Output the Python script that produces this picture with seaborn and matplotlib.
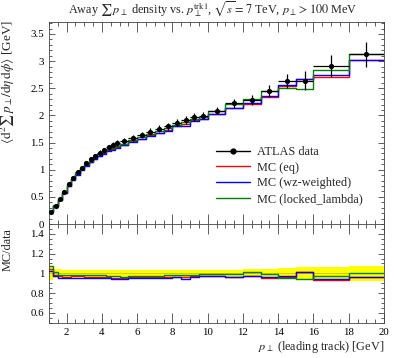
import numpy as np
import pandas as pd
import matplotlib
matplotlib.use("Agg")
import matplotlib.pyplot as plt
from matplotlib.lines import Line2D
from matplotlib.ticker import MultipleLocator
import seaborn as sns

# ---------------- data ----------------
bin_edges = [1.0, 1.25, 1.5, 1.75, 2.0, 2.25, 2.5, 2.75, 3.0, 3.25, 3.5, 3.75, 4.0,
             4.25, 4.5, 4.75, 5.0, 5.5, 6.0, 6.5, 7.0, 7.5, 8.0, 8.5, 9.0, 9.5, 10.0,
             11.0, 12.0, 13.0, 14.0, 15.0, 16.0, 18.0, 20.0]

data_y = [0.227, 0.34, 0.46, 0.595, 0.73, 0.85, 0.95, 1.04, 1.12, 1.19, 1.25, 1.31,
          1.36, 1.41, 1.45, 1.49, 1.53, 1.59, 1.64, 1.70, 1.755, 1.80, 1.865, 1.915,
          1.97, 1.995, 2.09, 2.22, 2.28, 2.455, 2.63, 2.64, 2.915, 3.125]
data_err = [0.016, 0.016, 0.019, 0.023, 0.027, 0.031, 0.034, 0.037, 0.040, 0.042,
            0.044, 0.046, 0.048, 0.049, 0.051, 0.052, 0.054, 0.056, 0.057, 0.060,
            0.062, 0.063, 0.065, 0.067, 0.069, 0.070, 0.073, 0.085, 0.095, 0.11,
            0.13, 0.18, 0.20, 0.23]

mc_eq = [0.236, 0.333, 0.446, 0.574, 0.704, 0.825, 0.922, 1.009, 1.081, 1.148,
         1.206, 1.258, 1.306, 1.354, 1.385, 1.423, 1.461, 1.526, 1.574, 1.632,
         1.685, 1.737, 1.800, 1.848, 1.911, 1.935, 2.027, 2.131, 2.212, 2.345,
         2.538, 2.666, 2.711, 3.016]
mc_wz = [0.232, 0.330, 0.439, 0.568, 0.694, 0.812, 0.907, 0.993, 1.070, 1.136,
         1.188, 1.245, 1.292, 1.340, 1.370, 1.408, 1.446, 1.511, 1.558, 1.615,
         1.667, 1.710, 1.800, 1.800, 1.891, 1.935, 2.027, 2.131, 2.223, 2.357,
         2.564, 2.666, 2.740, 3.019]
mc_ll = [0.243, 0.343, 0.453, 0.583, 0.715, 0.837, 0.936, 1.024, 1.103, 1.166,
         1.225, 1.284, 1.333, 1.375, 1.407, 1.445, 1.476, 1.550, 1.599, 1.658,
         1.711, 1.764, 1.828, 1.877, 1.940, 1.975, 2.080, 2.209, 2.303, 2.443,
         2.512, 2.495, 2.828, 3.125]

series_names = ["MC (eq)", "MC (wz-weighted)", "MC (locked_lambda)"]
series_vals = [mc_eq, mc_wz, mc_ll]
series_colors = ["red", "blue", "green"]

# ---------------- style ----------------
sns.set_theme(style="ticks")
plt.rcParams["font.family"] = ["Liberation Serif", "DejaVu Serif"]
plt.rcParams["mathtext.fontset"] = "stix"
plt.rcParams["axes.linewidth"] = 0.6
plt.rcParams["axes.edgecolor"] = "#444444"
FS = 8.8
TFS = 7.8

edges = np.array(bin_edges)
centers = 0.5 * (edges[:-1] + edges[1:])
halfw = 0.5 * (edges[1:] - edges[:-1])
dy = np.array(data_y)
de = np.array(data_err)


def step_df(vals):
    v = np.asarray(vals, dtype=float)
    return pd.DataFrame({"x": edges, "y": np.append(v, v[-1])})


fig = plt.figure(figsize=(3.97, 3.58), dpi=100)
W, H = 397.0, 358.0
L, R = 49 / W, 384 / W
ax = fig.add_axes([L, 1 - 224 / H, R - L, (224 - 22) / H])
axr = fig.add_axes([L, 1 - 322.7 / H, R - L, (322.7 - 224) / H], sharex=ax)

# main panel
for name, vals, col in zip(series_names, series_vals, series_colors):
    sns.lineplot(data=step_df(vals), x="x", y="y", drawstyle="steps-post",
                 color=col, linewidth=1.0, ax=ax, estimator=None, sort=False)
ax.errorbar(centers, dy, yerr=de, xerr=halfw, fmt="none", ecolor="black",
            elinewidth=0.9, capsize=0, zorder=5)
sns.scatterplot(x=centers, y=dy, color="black", s=14, edgecolor="black",
                linewidth=0, ax=ax, zorder=6)

# ratio panel
rel = de / dy
band_lo = np.append(1 - rel, (1 - rel)[-1])
band_hi = np.append(1 + rel, (1 + rel)[-1])
axr.fill_between(edges, band_lo, band_hi, step="post", color="#ffff00",
                 linewidth=0, zorder=1)
axr.axhline(1.0, color="#bbbb00", lw=0.5, zorder=1)
for name, vals, col in zip(series_names, series_vals, series_colors):
    sns.lineplot(data=step_df(np.array(vals) / dy), x="x", y="y",
                 drawstyle="steps-post", color=col, linewidth=1.0, ax=axr,
                 estimator=None, sort=False, zorder=3)

# axes setup
ax.set_xlim(1, 20)
ax.set_ylim(0, 3.72)
axr.set_ylim(0.5, 1.5)
for a in (ax, axr):
    a.set_xlabel("")
    a.set_ylabel("")
    a.xaxis.set_major_locator(MultipleLocator(2))
    a.xaxis.set_minor_locator(MultipleLocator(0.5))
    a.tick_params(which="both", direction="in", top=True, right=True,
                  colors="#444444", labelcolor="black", labelsize=TFS, width=0.6)
    a.tick_params(axis="x", which="major", length=7)
    a.tick_params(axis="x", which="minor", length=2.8)
    a.tick_params(axis="y", which="major", length=4.5)
    a.tick_params(axis="y", which="minor", length=2.2)
ax.yaxis.set_major_locator(MultipleLocator(0.5))
ax.yaxis.set_minor_locator(MultipleLocator(0.1))
axr.yaxis.set_major_locator(MultipleLocator(0.2))
axr.yaxis.set_minor_locator(MultipleLocator(0.05))
ax.tick_params(axis="x", labelbottom=False)
ax.set_yticks([0, 0.5, 1, 1.5, 2, 2.5, 3, 3.5])
ax.set_yticklabels(["0", "0.5", "1", "1.5", "2", "2.5", "3", "3.5"])
axr.set_yticks([0.6, 0.8, 1.0, 1.2, 1.4])
axr.set_yticklabels(["0.6", "0.8", "1", "1.2", "1.4"])

# legend
handles = [Line2D([], [], color="black", marker="o", markersize=3.5, lw=1.0)]
handles += [Line2D([], [], color=c, lw=1.0) for c in series_colors]
labels = ["ATLAS data"] + series_names
ax.legend(handles, labels, loc="lower right", bbox_to_anchor=(0.97, 0.04),
          frameon=False, fontsize=FS, handlelength=2.8, labelspacing=0.3,
          handletextpad=0.6)

# texts
fig.text((L + R) / 2 - 0.01, 1 - 9 / H,
         r"Away $\sum\, p_\perp$ density vs. $p_\perp^{\mathrm{trk1}}$, $\sqrt{s} = 7$ TeV, $p_\perp > 100$ MeV",
         ha="center", va="center", fontsize=FS)
fig.text(8 / W, 1 - 20 / H,
         r"$\langle\mathrm{d}^2 \sum\, p_\perp / \mathrm{d}\eta\, \mathrm{d}\phi\rangle$ [GeV]",
         rotation=90, ha="center", va="top", fontsize=9.5)
fig.text(8 / W, 1 - 228 / H, "MC/data", rotation=90, ha="center", va="top",
         fontsize=FS)
fig.text(R, 1 - 347 / H, r"$p_\perp$ (leading track) [GeV]", ha="right",
         va="center", fontsize=FS)

fig.savefig("out.png", dpi=100)
